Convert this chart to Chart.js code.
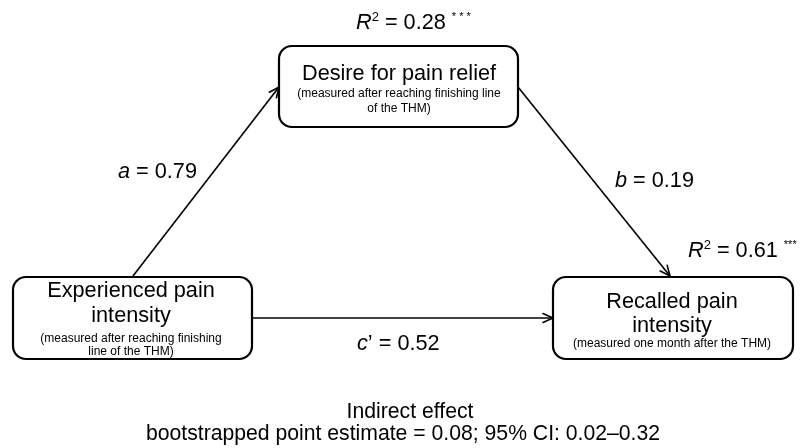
<!DOCTYPE html>
<html><head><meta charset="utf-8">
<script src="https://cdn.jsdelivr.net/npm/chart.js@4.4.1/dist/chart.umd.min.js"></script>
<style>html,body{margin:0;padding:0;background:#fff}#wrap{width:804px;height:448px}</style>
</head><body><div id="wrap"><canvas id="c"></canvas></div>
<script>
// ---- data ----
const nodeNames = ["Experienced pain intensity", "Desire for pain relief", "Recalled pain intensity"];
const nodeTitleLines = [["Experienced pain", "intensity"], ["Desire for pain relief"], ["Recalled pain", "intensity"]];
const nodeNoteLines = [["(measured after reaching finishing", "line of the THM)"], ["(measured after reaching finishing line", "of the THM)"], ["(measured one month after the THM)"]];
const pathNames = ["a", "b", "c’"];
const pathValues = [0.79, 0.19, 0.52];
const r2Values = [0.28, 0.61];
const r2Stars = ["* * *", "***"];
const indirectTitle = "Indirect effect";
const indirectText = "bootstrapped point estimate = 0.08; 95% CI: 0.02–0.32";

// ---- layout (positions / styles) ----
const boxes = [
  {x0: 13, y0: 277, x1: 252, y1: 359, cx: 131, title: [297, 322], note: [342, 355]},
  {x0: 279, y0: 46, x1: 518, y1: 127, cx: 399, title: [80], note: [97, 112]},
  {x0: 553, y0: 277, x1: 793, y1: 359, cx: 672, title: [308, 332], note: [347]}
];
const paths = [
  {from: [133, 276], to: [279, 87], lx: 118, ly: 178},
  {from: [518, 87], to: [670, 276], lx: 615, ly: 187},
  {from: [252, 318], to: [553, 318], lx: 357, ly: 350}
];
const r2Pos = [{x: 356, y: 29}, {x: 688, y: 257}];
const FONT = '"Liberation Sans", Arial, sans-serif';
const BIG = 21.7, NOTE = 12, BOTTOM = 21.2;

function fmt(v){ return v.toFixed(2); }

const drawPlugin = {
  id: 'diagram',
  afterDatasetsDraw(chart) {
    const ctx = chart.ctx, xs = chart.scales.x, ys = chart.scales.y;
    const X = v => xs.getPixelForValue(v), Y = v => ys.getPixelForValue(v);
    ctx.save();
    // arrowheads
    chart.data.datasets.forEach((ds, i) => {
      const meta = chart.getDatasetMeta(i);
      const p0 = meta.data[0], p1 = meta.data[1];
      const ang = Math.atan2(p1.y - p0.y, p1.x - p0.x);
      const L = 11, A = 0.42;
      ctx.strokeStyle = '#000'; ctx.lineWidth = 1.6; ctx.lineCap = 'round';
      ctx.beginPath();
      ctx.moveTo(p1.x - L * Math.cos(ang - A), p1.y - L * Math.sin(ang - A));
      ctx.lineTo(p1.x, p1.y);
      ctx.lineTo(p1.x - L * Math.cos(ang + A), p1.y - L * Math.sin(ang + A));
      ctx.stroke();
    });
    // boxes
    boxes.forEach((b, i) => {
      const x0 = X(b.x0), x1 = X(b.x1), y0 = Y(b.y0), y1 = Y(b.y1);
      ctx.fillStyle = '#fff'; ctx.strokeStyle = '#000'; ctx.lineWidth = 2.2;
      ctx.beginPath(); ctx.roundRect(x0, y0, x1 - x0, y1 - y0, 13); ctx.fill(); ctx.stroke();
      ctx.fillStyle = '#000'; ctx.textAlign = 'center'; ctx.textBaseline = 'alphabetic';
      ctx.font = BIG + 'px ' + FONT;
      nodeTitleLines[i].forEach((t, k) => ctx.fillText(t, X(b.cx), Y(b.title[k])));
      ctx.font = NOTE + 'px ' + FONT;
      nodeNoteLines[i].forEach((t, k) => ctx.fillText(t, X(b.cx), Y(b.note[k])));
    });
    // path labels
    ctx.textAlign = 'left';
    paths.forEach((p, i) => {
      let x = X(p.lx); const y = Y(p.ly);
      ctx.font = 'italic ' + BIG + 'px ' + FONT;
      ctx.fillText(pathNames[i].charAt(0), x, y); x += ctx.measureText(pathNames[i].charAt(0)).width;
      ctx.font = BIG + 'px ' + FONT;
      const rest = pathNames[i].slice(1) + ' = ' + fmt(pathValues[i]);
      ctx.fillText(rest, x, y);
    });
    // R2 labels
    r2Values.forEach((v, i) => {
      let x = X(r2Pos[i].x); const y = Y(r2Pos[i].y);
      ctx.font = 'italic ' + BIG + 'px ' + FONT; ctx.fillText('R', x, y); x += ctx.measureText('R').width;
      ctx.font = '13px ' + FONT; ctx.fillText('2', x, y - 8); x += ctx.measureText('2').width;
      ctx.font = BIG + 'px ' + FONT; const s = ' = ' + fmt(v) + ' '; ctx.fillText(s, x, y); x += ctx.measureText(s).width;
      ctx.font = '11px ' + FONT; ctx.fillText(r2Stars[i], x, y - 9);
    });
    // indirect effect
    ctx.textAlign = 'center';
    ctx.font = BOTTOM + 'px ' + FONT;
    ctx.fillText(indirectTitle, X(410), Y(418));
    ctx.fillText(indirectText, X(403), Y(440));
    ctx.restore();
  }
};

new Chart(document.getElementById('c'), {
  type: 'scatter',
  data: {
    datasets: paths.map((p, i) => ({
      label: pathNames[i],
      data: [{x: p.from[0], y: p.from[1]}, {x: p.to[0], y: p.to[1]}],
      showLine: true, borderColor: '#000', borderWidth: 1.6, pointRadius: 0, fill: false
    }))
  },
  options: {
    responsive: true, maintainAspectRatio: false, animation: false,
    layout: {padding: 0},
    plugins: {legend: {display: false}, tooltip: {enabled: false}},
    scales: {
      x: {type: 'linear', min: 0, max: 804, display: false},
      y: {type: 'linear', min: 0, max: 448, reverse: true, display: false}
    }
  },
  plugins: [drawPlugin]
});
</script></body></html>
